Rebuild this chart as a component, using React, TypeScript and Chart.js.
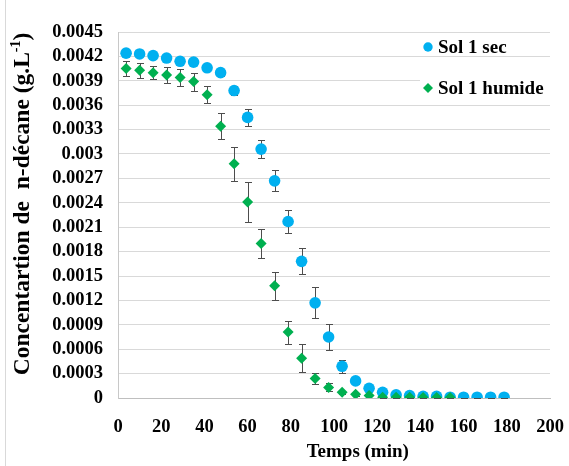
import React, { useEffect, useRef } from 'react';
import { Chart, registerables } from 'chart.js';

Chart.register(...registerables);

// ---- Data ----
const sol1SecTimes = [3.75, 10, 16.25, 22.5, 28.75, 35, 41.25, 47.5, 53.75, 60, 66.25, 72.5, 78.75, 85, 91.25, 97.5, 103.75, 110, 116.25, 122.5, 128.75, 135, 141.25, 147.5, 153.75, 160, 166.25, 172.5, 178.75];
const sol1SecValues = [0.00424, 0.00423, 0.00421, 0.00418, 0.00414, 0.00413, 0.00406, 0.004, 0.00378, 0.00345, 0.00306, 0.00267, 0.00217, 0.00168, 0.00117, 0.00075, 0.00039, 0.00021, 0.00012, 0.00007, 0.00004, 0.00003, 0.00002, 0.00002, 0.00001, 0.00001, 0.00001, 0.00001, 0.00001];
const sol1SecErrors = [0.00003, 0.00003, 0.00003, 0.00003, 0.00003, 0.00004, 0.00004, 0.00004, 0.00005, 0.0001, 0.00011, 0.00013, 0.00014, 0.00016, 0.00019, 0.00016, 0.00008, 0.00004, 0.00003, 0.00002, 0.00002, 0.00001, 0.00001, 0.00001, 0.00001, 0.00001, 0.00001, 0.00001, 0.00001];

const sol1HumideTimes = [3.75, 10, 16.25, 22.5, 28.75, 35, 41.25, 47.5, 53.75, 60, 66.25, 72.5, 78.75, 85, 91.25, 97.5, 103.75, 110, 116.25, 122.5, 128.75, 135, 141.25, 147.5, 153.75];
const sol1HumideValues = [0.00405, 0.00403, 0.004, 0.00397, 0.00394, 0.00389, 0.00373, 0.00334, 0.00288, 0.00241, 0.0019, 0.00138, 0.00081, 0.00049, 0.00024, 0.00013, 0.00007, 0.000045, 0.00003, 0.00001, 0.00001, 0.00001, 0.000005, 0.000005, 0.000005];
const sol1HumideErrors = [0.00009, 0.00009, 0.00008, 0.0001, 0.0001, 0.00011, 0.0001, 0.00016, 0.00021, 0.00024, 0.00018, 0.00017, 0.00014, 0.00017, 0.00007, 0.00005, 0.00002, 0.00002, 0.00001, 0.00001, 0.00001, 0.00001, 0.00001, 0.00001, 0.00001];

const seriesLabels = ['Sol 1 sec', 'Sol 1 humide'];
const xTickValues = [0, 20, 40, 60, 80, 100, 120, 140, 160, 180, 200];
const xTickLabels = ['0', '20', '40', '60', '80', '100', '120', '140', '160', '180', '200'];
const yTickValues = [0, 0.0003, 0.0006, 0.0009, 0.0012, 0.0015, 0.0018, 0.0021, 0.0024, 0.0027, 0.003, 0.0033, 0.0036, 0.0039, 0.0042, 0.0045];
const yTickLabels = ['0', '0.0003', '0.0006', '0.0009', '0.0012', '0.0015', '0.0018', '0.0021', '0.0024', '0.0027', '0.003', '0.0033', '0.0036', '0.0039', '0.0042', '0.0045'];
const xTitle = 'Temps (min)';
const yTitleMain = 'Concentartion de  n-décane (g.L';
const yTitleSup = '-1';
const yTitleEnd = ')';

const FONT = "'Liberation Serif', 'Times New Roman', serif";
const BLUE = '#00B0F0';
const GREEN = '#00B050';

const errorBarPlugin = {
  id: 'errorBars',
  beforeDatasetsDraw(chart: any) {
    const ctx = chart.ctx;
    const xs = chart.scales.x;
    const ys = chart.scales.y;
    ctx.save();
    ctx.strokeStyle = '#4d4d4d';
    ctx.lineWidth = 1;
    chart.data.datasets.forEach((ds: any) => {
      const errs: number[] = ds.errors || [];
      ds.data.forEach((p: any, i: number) => {
        const e = errs[i] || 0;
        if (!e) return;
        const x = Math.round(xs.getPixelForValue(p.x)) + 0.5;
        const yTop = Math.round(ys.getPixelForValue(p.y + e)) + 0.5;
        const yBot = Math.round(ys.getPixelForValue(p.y - e)) + 0.5;
        ctx.beginPath();
        ctx.moveTo(x, yTop);
        ctx.lineTo(x, yBot);
        ctx.moveTo(x - 3.5, yTop);
        ctx.lineTo(x + 3.5, yTop);
        ctx.moveTo(x - 3.5, yBot);
        ctx.lineTo(x + 3.5, yBot);
        ctx.stroke();
      });
    });
    ctx.restore();
  },
};

const decorPlugin = {
  id: 'decor',
  beforeDraw(chart: any) {
    const ctx = chart.ctx;
    ctx.save();
    ctx.strokeStyle = '#d9d9d9';
    ctx.lineWidth = 1;
    ctx.beginPath();
    ctx.moveTo(5.5, 0);
    ctx.lineTo(5.5, chart.height);
    ctx.stroke();
    ctx.restore();
  },
  afterDraw(chart: any) {
    const ctx = chart.ctx;
    const area = chart.chartArea;
    const xs = chart.scales.x;
    ctx.save();
    ctx.fillStyle = '#000';
    // X title
    ctx.font = `bold 19px ${FONT}`;
    ctx.textAlign = 'center';
    ctx.textBaseline = 'middle';
    ctx.fillText(xTitle, xs.getPixelForValue(111), 452);

    // Y title (rotated) with superscript
    const mainFont = `bold 23.5px ${FONT}`;
    const supFont = `bold 14px ${FONT}`;
    ctx.font = mainFont;
    const w1 = ctx.measureText(yTitleMain).width;
    const w3 = ctx.measureText(yTitleEnd).width;
    ctx.font = supFont;
    const w2 = ctx.measureText(yTitleSup).width;
    const total = w1 + w2 + w3;
    ctx.translate(21, (area.top + area.bottom) / 2 - 11);
    ctx.rotate(-Math.PI / 2);
    ctx.textAlign = 'left';
    ctx.textBaseline = 'alphabetic';
    let cx = -total / 2;
    const base = 8;
    ctx.font = mainFont;
    ctx.fillText(yTitleMain, cx, base);
    cx += w1;
    ctx.font = supFont;
    ctx.fillText(yTitleSup, cx, base - 9);
    cx += w2;
    ctx.font = mainFont;
    ctx.fillText(yTitleEnd, cx, base);
    ctx.restore();

    // Legend
    ctx.save();
    ctx.fillStyle = '#ffffff';
    ctx.fillRect(area.right - 130, area.top + 42, 132, 28);
    const mx = area.right - 122;
    const rows = [area.top + 15, area.top + 56];
    const colors = [BLUE, GREEN];
    rows.forEach((y, i) => {
      ctx.fillStyle = colors[i];
      ctx.beginPath();
      if (i === 0) {
        ctx.arc(mx, y, 4.7, 0, Math.PI * 2);
      } else {
        ctx.moveTo(mx, y - 5);
        ctx.lineTo(mx + 5, y);
        ctx.lineTo(mx, y + 5);
        ctx.lineTo(mx - 5, y);
        ctx.closePath();
      }
      ctx.fill();
      ctx.fillStyle = '#000';
      ctx.font = `bold 19px ${FONT}`;
      ctx.textAlign = 'left';
      ctx.textBaseline = 'middle';
      ctx.fillText(seriesLabels[i], mx + 10, y + 1);
    });
    ctx.restore();
  },
};

export default function App() {
  const canvasRef = useRef<HTMLCanvasElement | null>(null);

  useEffect(() => {
    const canvas = canvasRef.current;
    if (!canvas) return;
    const chart = new Chart(canvas, {
      type: 'scatter',
      data: {
        datasets: [
          {
            label: seriesLabels[0],
            data: sol1SecTimes.map((t, i) => ({ x: t, y: sol1SecValues[i] })),
            errors: sol1SecErrors,
            order: 1,
            pointStyle: 'circle',
            pointRadius: 5.8,
            pointHoverRadius: 5.8,
            backgroundColor: BLUE,
            borderColor: BLUE,
            borderWidth: 0,
            showLine: false,
          } as any,
          {
            label: seriesLabels[1],
            data: sol1HumideTimes.map((t, i) => ({ x: t, y: sol1HumideValues[i] })),
            errors: sol1HumideErrors,
            order: 0,
            pointStyle: 'rectRot',
            pointRadius: 5.5,
            pointHoverRadius: 5.5,
            backgroundColor: GREEN,
            borderColor: GREEN,
            borderWidth: 0,
            showLine: false,
          } as any,
        ],
      },
      options: {
        responsive: false,
        animation: false,
        devicePixelRatio: 1,
        layout: { padding: { top: 32, right: 19, left: 0, bottom: 0 } },
        plugins: {
          legend: { display: false },
          tooltip: { enabled: false },
          title: { display: false },
        },
        scales: {
          x: {
            type: 'linear',
            min: 0,
            max: 200,
            afterBuildTicks: (s: any) => {
              s.ticks = xTickValues.map((v) => ({ value: v }));
            },
            afterFit: (s: any) => {
              s.height = 68;
              s.paddingLeft = 0;
              s.paddingRight = 0;
            },
            ticks: {
              callback: (_v: any, i: number) => xTickLabels[i],
              font: { family: FONT, size: 18.5, weight: 'bold' },
              color: '#000',
              padding: 18,
              maxRotation: 0,
              autoSkip: false,
            },
            grid: { display: false, drawTicks: false },
            border: { display: true, color: '#bfbfbf', width: 1 },
          },
          y: {
            type: 'linear',
            min: 0,
            max: 0.0045,
            afterBuildTicks: (s: any) => {
              s.ticks = yTickValues.map((v) => ({ value: v }));
            },
            afterFit: (s: any) => {
              s.width = 118;
              s.paddingTop = 0;
              s.paddingBottom = 0;
            },
            ticks: {
              callback: (_v: any, i: number) => yTickLabels[i],
              font: { family: FONT, size: 18.5, weight: 'bold' },
              color: '#000',
              padding: 15,
              autoSkip: false,
            },
            grid: { color: '#d9d9d9', lineWidth: 1, drawTicks: false },
            border: { display: true, color: '#c8c8c8', width: 1 },
          },
        },
      } as any,
      plugins: [errorBarPlugin, decorPlugin],
    });
    return () => chart.destroy();
  }, []);

  return (
    <div style={{ position: 'fixed', left: 0, top: 0, width: 569, height: 466, background: '#fff' }}>
      <canvas ref={canvasRef} width={569} height={466} style={{ width: 569, height: 466 }} />
    </div>
  );
}
